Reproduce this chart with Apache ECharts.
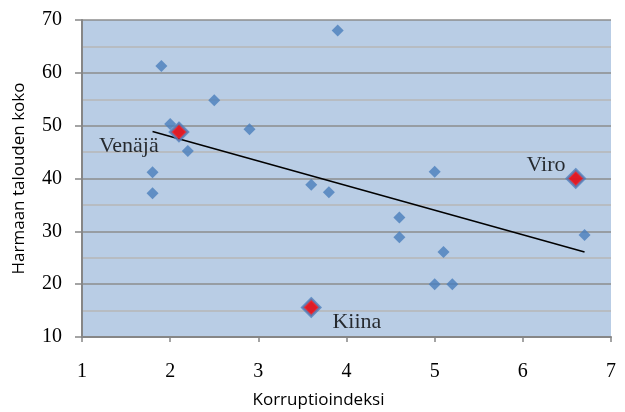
<!DOCTYPE html>
<html>
<head>
<meta charset="utf-8">
<script src="https://cdn.jsdelivr.net/npm/echarts@6/dist/echarts.min.js"></script>
<style>
  html, body { margin: 0; padding: 0; background: #fff; }
  #chart { width: 625px; height: 412px; }
</style>
</head>
<body>
<div id="chart"></div>
<script>
// korruptioindeksi (x) ja harmaan talouden koko (y)
const countryX = [1.9, 3.9, 2.5, 2.0, 2.9, 2.2, 1.8, 1.8, 3.6, 3.8, 5.0, 4.6, 4.6, 5.1, 5.0, 5.2, 6.7, 2.1, 6.6, 3.6]
const countryY = [61.3, 68.0, 54.8, 50.3, 49.3, 45.2, 41.2, 37.2, 38.8, 37.4, 41.3, 32.6, 28.9, 26.1, 20.0, 20.0, 29.3, 48.8, 40.0, 15.6]
// korostetut maat
const highlightNames = ['Venäjä', 'Viro', 'Kiina']
const highlightX = [2.1, 6.6, 3.6]
const highlightY = [48.8, 40.0, 15.6]
// trendiviiva (luettu kuvasta)
const trendX = [1.8, 6.7]
const trendY = [48.9, 26.1]
const xTicks = [1, 2, 3, 4, 5, 6, 7]
const yTicks = [10, 20, 30, 40, 50, 60, 70]

const chart = echarts.init(document.getElementById('chart'), null, { renderer: 'canvas' })

const serif = '"Liberation Serif", "DejaVu Serif", serif'
const sans = '"Open Sans", "Liberation Sans", sans-serif'

// label placement per highlighted country
const labelPos = {
  'Venäjä': { position: 'left', offset: [-5, 14] },
  'Viro': { position: 'left', offset: [5, -13] },
  'Kiina': { position: 'right', offset: [6, 15] }
}

const option = {
  animation: false,
  grid: {
    left: 82,
    right: 14,
    top: 20,
    bottom: 75,
    outerBoundsMode: 'none',
    show: true,
    backgroundColor: '#b9cde5',
    borderWidth: 0
  },
  xAxis: {
    type: 'value',
    min: xTicks[0],
    max: xTicks[xTicks.length - 1],
    interval: 1,
    name: 'Korruptioindeksi',
    nameLocation: 'middle',
    nameGap: 55,
    nameTextStyle: { fontFamily: sans, fontSize: 17, color: '#000', padding: [0, 56, 0, 0] },
    axisLine: { show: true, lineStyle: { color: '#868686', width: 2 } },
    axisTick: { show: true, length: 5, lineStyle: { color: '#868686', width: 1.5 } },
    axisLabel: { margin: 25, fontFamily: serif, fontSize: 20, color: '#000' },
    splitLine: { show: false }
  },
  yAxis: {
    type: 'value',
    min: yTicks[0],
    max: yTicks[yTicks.length - 1],
    interval: 10,
    name: 'Harmaan talouden koko',
    nameLocation: 'middle',
    nameGap: 54,
    nameTextStyle: { fontFamily: sans, fontSize: 17, color: '#000' },
    axisLine: { show: true, lineStyle: { color: '#868686', width: 2 } },
    axisTick: { show: true, length: 7, lineStyle: { color: '#868686', width: 1.5 } },
    axisLabel: { margin: 20, fontFamily: serif, fontSize: 20, color: '#000' },
    splitLine: { show: true, lineStyle: { color: '#8c8c8c', width: 1.5 } },
    minorTick: { show: false, splitNumber: 2 },
    minorSplitLine: { show: true, lineStyle: { color: '#b7b7b7', width: 1.5 } }
  },
  series: [
    {
      type: 'scatter',
      symbol: 'diamond',
      symbolSize: 12,
      itemStyle: { color: '#4a7ebb' },
      data: countryX.map((x, i) => [x, countryY[i]]),
      z: 3
    },
    {
      type: 'line',
      data: trendX.map((x, i) => [x, trendY[i]]),
      symbol: 'none',
      lineStyle: { color: '#000', width: 1.5 },
      z: 2
    },
    {
      type: 'scatter',
      symbol: 'diamond',
      symbolSize: 18,
      itemStyle: { color: '#ff0000', borderColor: '#4f81bd', borderWidth: 2.5 },
      data: highlightX.map((x, i) => ({
        name: highlightNames[i],
        value: [x, highlightY[i]],
        label: {
          show: true,
          formatter: '{b}',
          position: labelPos[highlightNames[i]].position,
          offset: labelPos[highlightNames[i]].offset,
          fontFamily: serif,
          fontSize: 22,
          color: '#000'
        }
      })),
      z: 4
    }
  ]
}

chart.setOption(option)
</script>
</body>
</html>
